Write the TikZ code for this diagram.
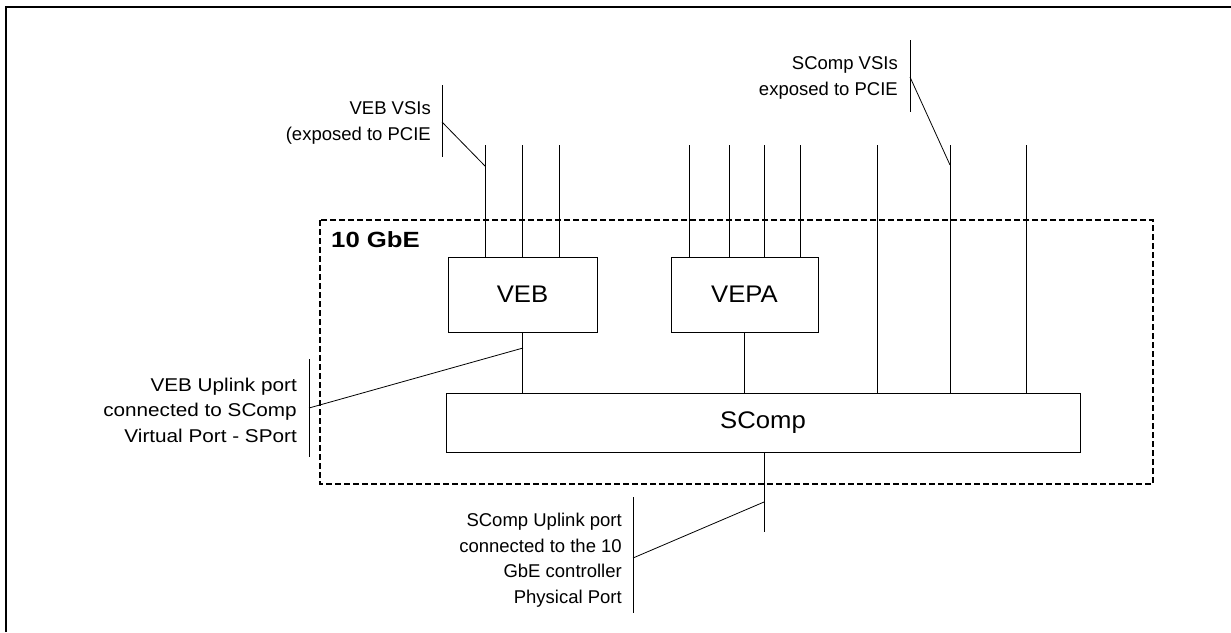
\documentclass[tikz,border=0pt]{standalone}
\usepackage{fontspec}
\setmainfont{Liberation Sans}
\newfontfamily\widefont[FakeStretch=1.12]{Liberation Sans}
\newfontfamily\boxfont[FakeStretch=1.07]{Liberation Sans}
\newfontfamily\gbefont[FakeStretch=1.17]{Liberation Sans}
\begin{document}
\begin{tikzpicture}[x=1pt,y=-1pt,
  box/.style={draw, line width=1pt, inner sep=0pt, font=\boxfont\fontsize{24}{28}\selectfont},
  lbl/.style={align=right, inner sep=0pt, anchor=east, font=\fontsize{18.5}{25.5}\selectfont},
  ln/.style={line width=1pt},
  lead/.style={line width=0.8pt},
  bar/.style={line width=1pt},
  frame/.style={line width=2.5pt},
  group/.style={line width=1.4pt, dash pattern=on 6pt off 3pt}]
\useasboundingbox (0,0) rectangle (1231,632);
\draw[frame] (6,632) -- (6,7) -- (1231,7);
\draw[group] (320,220) rectangle (1153,484);
\node[anchor=west, inner sep=0pt, font=\gbefont\bfseries\fontsize{22}{26}\selectfont] (gbe) at (331,240) {10 GbE};
% boxes
\node[box, minimum width=149pt, minimum height=75pt] (veb) at (522.5,294.5) {VEB};
\node[box, minimum width=147pt, minimum height=75pt] (vepa) at (744.5,294.5) {VEPA};
\node[box, minimum width=634pt, minimum height=59pt] (scomp) at (763,422.5) {SComp};
% VSI tops
\coordinate (v1) at (485,145);
\coordinate (v2) at (522,145);
\coordinate (v3) at (559,145);
\coordinate (p1) at (689,145);
\coordinate (p2) at (729,145);
\coordinate (p3) at (764,145);
\coordinate (p4) at (800,145);
\coordinate (s1) at (877,145);
\coordinate (s2) at (950,145);
\coordinate (s3) at (1026,145);
\foreach \c in {v1,v2,v3} \draw[ln] (\c) -- (veb.north -| \c);
\foreach \c in {p1,p2,p3,p4} \draw[ln] (\c) -- (vepa.north -| \c);
\foreach \c in {s1,s2,s3} \draw[ln] (\c) -- (scomp.north -| \c);
\draw[ln] (veb.south) -- (veb.south |- scomp.north);
\draw[ln] (vepa.south) -- (vepa.south |- scomp.north);
\coordinate (up) at (764,532);
\draw[ln] (scomp.south -| up) -- (up);
% annotation: VEB VSIs
\node[lbl] (tveb) at (431,123) {VEB VSIs\\(exposed to PCIE};
\coordinate (b1a) at (442,85);
\coordinate (b1b) at (442,157);
\coordinate (b1m) at (442,122);
\coordinate (l1) at (485,166);
\draw[bar] (b1a) -- (b1b);
\draw[lead] (b1m) -- (l1);
% annotation: SComp VSIs
\node[lbl] (tsc) at (898,78) {SComp VSIs\\exposed to PCIE};
\coordinate (b2a) at (910,40);
\coordinate (b2b) at (910,112);
\coordinate (b2m) at (910,77);
\coordinate (l2) at (950,165);
\draw[bar] (b2a) -- (b2b);
\draw[lead] (b2m) -- (l2);
% annotation: VEB uplink
\node[lbl, font=\widefont\fontsize{18.5}{25.5}\selectfont] (tup1) at (297,410) {VEB Uplink port\\connected to SComp\\Virtual Port - SPort};
\coordinate (b3a) at (309,359);
\coordinate (b3b) at (309,457);
\coordinate (b3m) at (309,408);
\coordinate (l3) at (523,348);
\draw[bar] (b3a) -- (b3b);
\draw[lead] (b3m) -- (l3);
% annotation: SComp uplink
\node[lbl] (tup2) at (622,560) {SComp Uplink port\\connected to the 10\\GbE controller\\Physical Port};
\coordinate (b4a) at (633,497);
\coordinate (b4b) at (633,613);
\coordinate (b4m) at (633,558);
\coordinate (l4) at (764,502);
\draw[bar] (b4a) -- (b4b);
\draw[lead] (b4m) -- (l4);
\end{tikzpicture}
\end{document}
